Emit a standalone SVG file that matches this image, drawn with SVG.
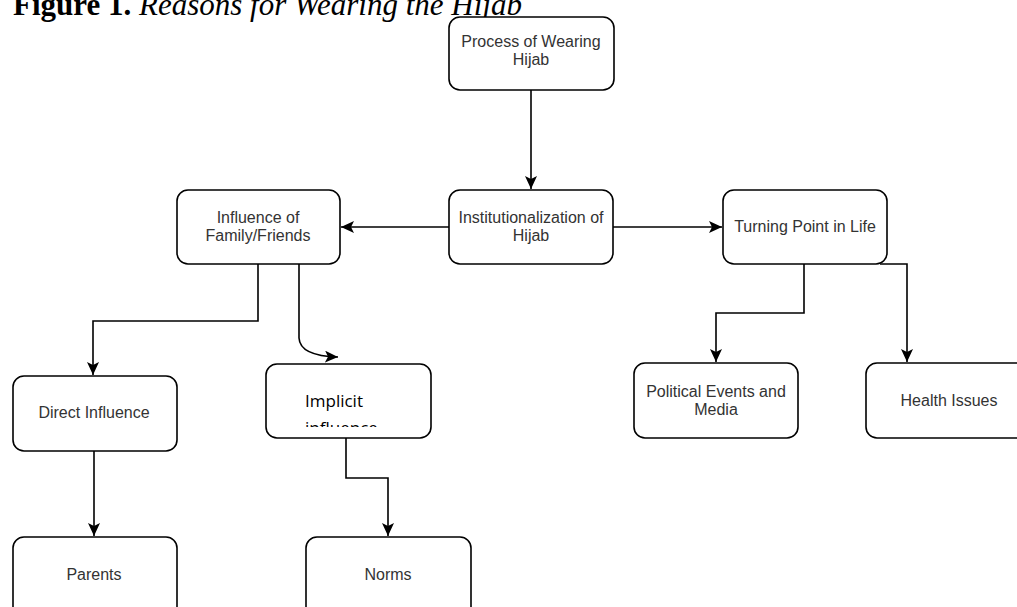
<svg xmlns="http://www.w3.org/2000/svg" width="1017" height="607" viewBox="0 0 1017 607">
<style>
.box{fill:#fff;stroke:#000;stroke-width:1.6}
.lbl{font-family:"Liberation Sans",Arial,sans-serif;font-size:16px;fill:#333;text-anchor:middle}
.edge{fill:none;stroke:#000;stroke-width:1.6}
.title{font-family:"Liberation Serif","Times New Roman",serif;font-size:31px;fill:#000}
</style>
<defs>
<marker id="arr" markerUnits="userSpaceOnUse" markerWidth="14" markerHeight="12" viewBox="0 0 14 12" refX="13" refY="6" orient="auto">
<path d="M0,0 L13,6 L0,12 L3,6 z" fill="#000"/>
</marker>
<clipPath id="cut"><rect x="266" y="364" width="165" height="63"/></clipPath>
</defs>
<rect width="1017" height="607" fill="#fff"/>
<text class="title" x="13" y="15"><tspan font-weight="bold">Figure 1.</tspan><tspan font-style="italic"> Reasons for Wearing the Hijab</tspan></text>

<g id="connectors">
<path class="edge" d="M531,90 V189" marker-end="url(#arr)"/>
<path class="edge" d="M449,227 H341" marker-end="url(#arr)"/>
<path class="edge" d="M613,227 H722" marker-end="url(#arr)"/>
<path class="edge" d="M258,264 V321 H93 V375" marker-end="url(#arr)"/>
<path class="edge" d="M299,264 V338 Q300,356 338,357" marker-end="url(#arr)"/>
<path class="edge" d="M94,451 V536" marker-end="url(#arr)"/>
<path class="edge" d="M346,438 V478 H388 V536" marker-end="url(#arr)"/>
<path class="edge" d="M804,263 V313 H716 V362" marker-end="url(#arr)"/>
<path class="edge" d="M880,264 H907 V362" marker-end="url(#arr)"/>
</g>

<g id="n-process">
<rect class="box" x="449" y="17" width="165" height="73" rx="11"/>
<text class="lbl" x="531" y="47">Process of Wearing</text>
<text class="lbl" x="531" y="65">Hijab</text>
</g>
<g id="n-institution">
<rect class="box" x="449" y="190" width="164" height="74" rx="11"/>
<text class="lbl" x="531" y="223">Institutionalization of</text>
<text class="lbl" x="531" y="241">Hijab</text>
</g>
<g id="n-influence">
<rect class="box" x="177" y="190" width="163" height="74" rx="11"/>
<text class="lbl" x="258" y="223">Influence of</text>
<text class="lbl" x="258" y="241">Family/Friends</text>
</g>
<g id="n-turning">
<rect class="box" x="723" y="190" width="164" height="74" rx="11"/>
<text class="lbl" x="805" y="232">Turning Point in Life</text>
</g>
<g id="n-direct">
<rect class="box" x="13" y="376" width="164" height="75" rx="11"/>
<text class="lbl" x="94" y="418">Direct Influence</text>
</g>
<g id="n-implicit">
<rect class="box" x="266" y="364" width="165" height="74" rx="11"/>
<g clip-path="url(#cut)" font-family="'Open Sans','DejaVu Sans',sans-serif" font-size="17" fill="#000">
<text x="305" y="407">Implicit</text>
<text x="305" y="434">influence</text>
</g>
</g>
<g id="n-political">
<rect class="box" x="634" y="363" width="164" height="75" rx="11"/>
<text class="lbl" x="716" y="397">Political Events and</text>
<text class="lbl" x="716" y="415">Media</text>
</g>
<g id="n-health">
<rect class="box" x="866" y="363" width="164" height="75" rx="11"/>
<text class="lbl" x="949" y="406">Health Issues</text>
</g>
<g id="n-parents">
<rect class="box" x="13" y="537" width="164" height="90" rx="11"/>
<text class="lbl" x="94" y="580">Parents</text>
</g>
<g id="n-norms">
<rect class="box" x="306" y="537" width="165" height="90" rx="11"/>
<text class="lbl" x="388" y="580">Norms</text>
</g>
</svg>
